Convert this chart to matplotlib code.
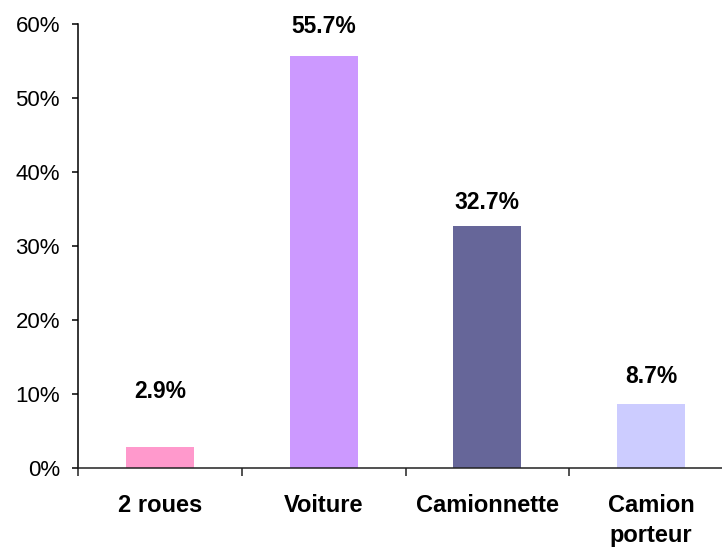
import matplotlib
matplotlib.use("Agg")
import matplotlib.pyplot as plt
from matplotlib.ticker import FixedLocator, FuncFormatter

# Vehicle categories and their share (%)
categories = ["2 roues", "Voiture", "Camionnette", "Camion\nporteur"]
shares = [2.9, 55.7, 32.7, 8.7]
bar_colors = ["#FF99CC", "#CC99FF", "#666699", "#CCCCFF"]
# vertical gap (pixels) between each bar top and its value label
label_gaps = [49, 23, 17, 21]

yticks = [0, 10, 20, 30, 40, 50, 60]

plt.rcParams["font.family"] = ["Liberation Sans", "DejaVu Sans"]

fig = plt.figure(figsize=(7.22, 5.47), dpi=100)
ax = fig.add_axes([78 / 722, 79 / 547, 655 / 722, 444 / 547])

x = list(range(len(categories)))
bars = ax.bar(x, shares, width=0.415, color=bar_colors, edgecolor="none", zorder=1)

for xi, v, gap in zip(x, shares, label_gaps):
    ax.annotate(f"{v:.1f}%", xy=(xi, v), xytext=(0, gap), textcoords="offset pixels",
                ha="center", va="baseline", fontsize=16.5, fontweight="bold", color="black")

ax.set_xlim(-0.5, 3.5)
ax.set_ylim(0, 60)

ax.set_yticks(yticks)
ax.yaxis.set_major_formatter(FuncFormatter(lambda v, p: f"{v:.0f}%"))
ax.tick_params(axis="y", direction="out", length=4.5, width=1.1, pad=8.5,
               labelsize=16, color="black")

# category boundaries as major ticks, names on minor ticks at the centers
ax.xaxis.set_major_locator(FixedLocator([-0.5, 0.5, 1.5, 2.5, 3.5]))
ax.xaxis.set_minor_locator(FixedLocator(x))
ax.xaxis.set_major_formatter(FuncFormatter(lambda v, p: ""))
ax.set_xticklabels(categories, minor=True)
ax.tick_params(axis="x", which="major", direction="out", length=6, width=1.1, color="#222222")
ax.tick_params(axis="x", which="minor", length=0, pad=19, labelsize=17)
for lbl in ax.get_xticklabels(minor=True):
    lbl.set_fontweight("bold")
    lbl.set_linespacing(1.35)

for s in ["top", "right"]:
    ax.spines[s].set_visible(False)
ax.spines["left"].set_linewidth(1.1)
ax.spines["left"].set_color("black")
ax.spines["bottom"].set_linewidth(1.1)
ax.spines["bottom"].set_color("#222222")
ax.spines["bottom"].set_zorder(3)

fig.savefig("out.png", dpi=100)
